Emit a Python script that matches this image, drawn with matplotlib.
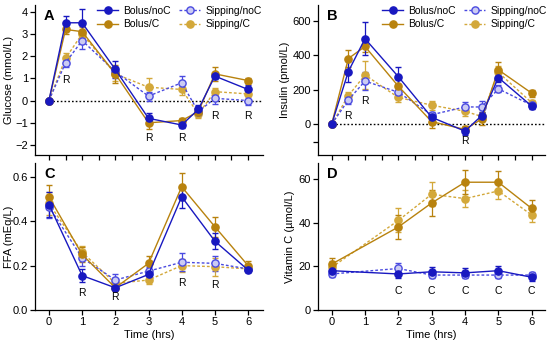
import matplotlib
matplotlib.use("Agg")
import matplotlib.pyplot as plt

plt.rcParams['font.family'] = ['Liberation Sans', 'DejaVu Sans']
plt.rcParams['font.size'] = 8

# time points
t_ab = [0, 0.5, 1, 2, 3, 4, 4.5, 5, 6]
t_c = [0, 1, 2, 3, 4, 5, 6]
t_d = [0, 2, 3, 4, 5, 6]

# Glucose (mmol/L)
glu_bnc = [0, 3.5, 3.5, 1.4, -0.8, -1.1, -0.4, 1.1, 0.5]
glu_bnc_err = [0, 0.3, 0.6, 0.4, 0.25, 0.15, 0.2, 0.15, 0.2]
glu_bc = [0, 3.2, 3.1, 1.2, -1.0, -0.9, -0.5, 1.2, 0.9]
glu_bc_err = [0, 0.2, 0.3, 0.4, 0.3, 0.1, 0.2, 0.3, 0.1]
glu_snc = [0, 1.7, 2.7, 1.3, 0.2, 0.8, -0.5, 0.1, 0.0]
glu_snc_err = [0, 0.2, 0.4, 0.2, 0.2, 0.3, 0.2, 0.25, 0.2]
glu_sc = [0, 1.9, 3.0, 1.2, 0.6, 0.5, -0.6, 0.4, 0.3]
glu_sc_err = [0, 0.25, 0.3, 0.3, 0.4, 0.25, 0.2, 0.15, 0.1]

# Insulin (pmol/L)
ins_bnc = [0, 305, 495, 275, 40, -40, 50, 270, 105]
ins_bnc_err = [0, 60, 95, 55, 20, 20, 20, 25, 15]
ins_bc = [0, 380, 450, 220, 15, -30, 30, 315, 180]
ins_bc_err = [0, 50, 30, 40, 35, 20, 35, 45, 20]
ins_snc = [0, 140, 250, 185, 55, 100, 100, 205, 110]
ins_snc_err = [0, 20, 50, 25, 15, 30, 35, 20, 15]
ins_sc = [0, 165, 285, 155, 110, 75, 45, 300, 125]
ins_sc_err = [0, 20, 80, 25, 25, 25, 25, 35, 15]

# FFA (mEq/L)
ffa_bnc = [0.475, 0.155, 0.10, 0.16, 0.51, 0.31, 0.18]
ffa_bnc_err = [0.055, 0.03, 0.01, 0.02, 0.05, 0.035, 0.01]
ffa_bc = [0.51, 0.25, 0.10, 0.21, 0.555, 0.375, 0.20]
ffa_bc_err = [0.055, 0.035, 0.01, 0.035, 0.06, 0.045, 0.02]
ffa_snc = [0.465, 0.235, 0.135, 0.175, 0.215, 0.21, 0.185]
ffa_snc_err = [0.05, 0.035, 0.025, 0.02, 0.04, 0.035, 0.015]
ffa_sc = [0.48, 0.26, 0.12, 0.135, 0.20, 0.195, 0.185]
ffa_sc_err = [0.05, 0.03, 0.015, 0.02, 0.03, 0.04, 0.015]

# Vitamin C (umol/L)
vc_bnc = [18, 16.5, 17.5, 17, 18, 15]
vc_bnc_err = [2, 2, 2, 2, 2, 1.5]
vc_bc = [21, 38, 49, 58.5, 58.5, 46.5]
vc_bc_err = [3, 5.5, 6, 5.5, 5, 4]
vc_snc = [16.5, 19, 16, 16, 16, 16]
vc_snc_err = [1.5, 2.5, 1.5, 1.5, 1.5, 1.5]
vc_sc = [19.5, 41, 53, 51, 54.5, 43.5]
vc_sc_err = [3, 5.5, 5.5, 4, 3.5, 3]

# significance marks (time, y)
marks_a = [(0.5, 0.93), (3, -1.7), (4, -1.7), (5, -0.68), (6, -0.68)]
marks_b = [(0.5, 48), (1, 135), (4, -97)]
marks_c = [(1, 0.078), (2, 0.06), (4, 0.12), (5, 0.112)]
marks_d = [(2, 8.7), (3, 8.7), (4, 8.7), (5, 8.7), (6, 8.7)]

labels = ['Bolus/noC', 'Bolus/C', 'Sipping/noC', 'Sipping/C']
blue = '#1818c0'
light_blue_edge = '#4a4ae0'
light_blue_face = '#cbcbf3'
gold_dark = '#b8820e'
gold_light = '#d3a83a'

styles = {
    'Bolus/noC': dict(color=blue, mfc=blue, mec=blue, ls='-'),
    'Bolus/C': dict(color=gold_dark, mfc=gold_dark, mec=gold_dark, ls='-'),
    'Sipping/noC': dict(color=light_blue_edge, mfc=light_blue_face, mec=light_blue_edge, ls=(0, (2, 1.5))),
    'Sipping/C': dict(color=gold_light, mfc=gold_light, mec=gold_light, ls=(0, (2, 1.5))),
}

fig = plt.figure(figsize=(5.5, 3.44), dpi=100)
W, H = 550, 344

def add_ax(l, r, b, t):
    return fig.add_axes([l / W, 1 - b / H, (r - l) / W, (b - t) / H])

axA = add_ax(35, 263, 155, 5)
axB = add_ax(318, 545, 155, 5)
axC = add_ax(35, 263, 310, 163)
axD = add_ax(318, 545, 310, 163)

def draw(ax, t, series, errs):
    handles = {}
    for lab in ['Sipping/C', 'Sipping/noC', 'Bolus/C', 'Bolus/noC']:
        st = styles[lab]
        h = ax.errorbar(t, series[lab], yerr=errs[lab], color=st['color'], ls=st['ls'],
                        lw=1.0, marker='o', ms=5.2, mfc=st['mfc'], mec=st['mec'], mew=1.0,
                        capsize=2.5, elinewidth=0.9, capthick=0.9)
        handles[lab] = h[0]
    return handles

def style(ax, xlim, ylim):
    ax.set_xlim(*xlim)
    ax.set_ylim(*ylim)
    ax.spines['top'].set_visible(False)
    ax.spines['right'].set_visible(False)
    ax.spines['left'].set_linewidth(0.9)
    ax.spines['bottom'].set_linewidth(0.9)
    ax.tick_params(direction='out', length=3.5, width=0.9, labelsize=8, pad=1.5)

def legend(ax, hd, x):
    ax.legend([hd[l] for l in labels], labels, ncol=2, frameon=False, loc='upper left',
              bbox_to_anchor=(x, 1.03), fontsize=7.5, borderpad=0, handlelength=2.0,
              handletextpad=0.5, columnspacing=0.8, labelspacing=0.35)

# Panel A
hd = draw(axA, t_ab, dict(zip(labels, [glu_bnc, glu_bc, glu_snc, glu_sc])),
          dict(zip(labels, [glu_bnc_err, glu_bc_err, glu_snc_err, glu_sc_err])))
axA.axhline(0, xmin=0.06, color='black', ls=(0, (1.2, 1.5)), lw=1, zorder=0)
style(axA, (-0.42, 6.45), (-2.45, 4.3))
axA.set_xticks([i * 0.5 for i in range(13)])
axA.set_xticklabels([])
axA.set_yticks([-2, -1, 0, 1, 2, 3, 4])
axA.set_yticklabels(['\u22122', '\u22121', '0', '1', '2', '3', '4'])
axA.set_ylabel('Glucose (mmol/L)', fontsize=8)
axA.yaxis.set_label_coords(-0.092, 0.5)
legend(axA, hd, 0.25)
for x, y in marks_a:
    axA.text(x, y, 'R', ha='center', va='center', fontsize=7.5)

# Panel B
hd = draw(axB, t_ab, dict(zip(labels, [ins_bnc, ins_bc, ins_snc, ins_sc])),
          dict(zip(labels, [ins_bnc_err, ins_bc_err, ins_snc_err, ins_sc_err])))
axB.axhline(0, xmin=0.06, color='black', ls=(0, (1.2, 1.5)), lw=1, zorder=0)
style(axB, (-0.41, 6.4), (-178, 690))
axB.set_xticks([i * 0.5 for i in range(13)])
axB.set_xticklabels([])
axB.set_yticks([-100, 0, 200, 400, 600])
axB.set_yticklabels(['', '0', '200', '400', '600'])
axB.set_ylabel('Insulin (pmol/L)', fontsize=8)
axB.yaxis.set_label_coords(-0.122, 0.5)
legend(axB, hd, 0.26)
for x, y in marks_b:
    axB.text(x, y, 'R', ha='center', va='center', fontsize=7.5)

# Panel C
draw(axC, t_c, dict(zip(labels, [ffa_bnc, ffa_bc, ffa_snc, ffa_sc])),
     dict(zip(labels, [ffa_bnc_err, ffa_bc_err, ffa_snc_err, ffa_sc_err])))
style(axC, (-0.42, 6.45), (0, 0.662))
axC.set_xticks(t_c)
axC.set_yticks([0, 0.2, 0.4, 0.6])
axC.set_yticklabels(['0.0', '0.2', '0.4', '0.6'])
axC.set_ylabel('FFA (mEq/L)', fontsize=8)
axC.yaxis.set_label_coords(-0.092, 0.5)
axC.set_xlabel('Time (hrs)', fontsize=8, labelpad=2)
for x, y in marks_c:
    axC.text(x, y, 'R', ha='center', va='center', fontsize=7.5)

# Panel D
draw(axD, t_d, dict(zip(labels, [vc_bnc, vc_bc, vc_snc, vc_sc])),
     dict(zip(labels, [vc_bnc_err, vc_bc_err, vc_snc_err, vc_sc_err])))
style(axD, (-0.41, 6.4), (0, 67.3))
axD.set_xticks([0, 1, 2, 3, 4, 5, 6])
axD.set_yticks([0, 20, 40, 60])
axD.set_ylabel('Vitamin C (\u00b5mol/L)', fontsize=8)
axD.yaxis.set_label_coords(-0.1, 0.5)
axD.set_xlabel('Time (hrs)', fontsize=8, labelpad=2)
for x, y in marks_d:
    axD.text(x, y, 'C', ha='center', va='center', fontsize=7.5)

for ax, letter in [(axA, 'A'), (axB, 'B'), (axC, 'C'), (axD, 'D')]:
    ax.text(0.04, 0.97, letter, transform=ax.transAxes, fontsize=10.5,
            fontweight='bold', ha='left', va='top')

fig.savefig('out.png', dpi=100)
